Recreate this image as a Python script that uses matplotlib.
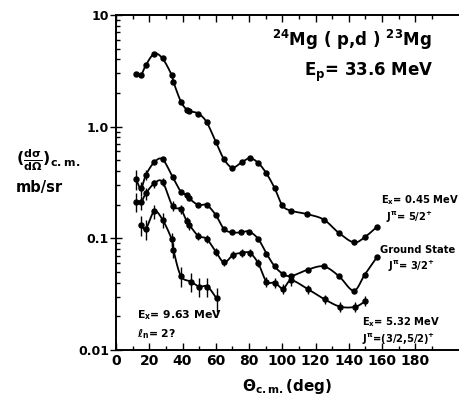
import numpy as np
import matplotlib
matplotlib.use("Agg")
import matplotlib.pyplot as plt
from matplotlib.ticker import FixedLocator, NullFormatter

plt.rcParams["font.family"] = ["DejaVu Sans"]
plt.rcParams["font.weight"] = "bold"
plt.rcParams["mathtext.fontset"] = "dejavusans"
plt.rcParams["mathtext.default"] = "bf"

# 24Mg(p,d)23Mg angular distributions, Ep = 33.6 MeV
theta_045 = [12, 15, 18, 23, 28, 33.5, 34.5, 39, 42.5, 44, 49.5, 54.5, 60, 65,
             70, 75.5, 80.5, 85.5, 90.5, 95.5, 100, 105, 115, 125, 134, 143,
             149.5, 157]
xs_045 = [2.97, 2.9, 3.57, 4.5, 4.08, 2.9, 2.53, 1.68, 1.42, 1.38, 1.31, 1.10,
          0.73, 0.51, 0.43, 0.478, 0.522, 0.474, 0.381, 0.28, 0.198, 0.177,
          0.165, 0.147, 0.112, 0.092, 0.102, 0.127]

theta_gs = [12, 15, 18, 23, 28, 34, 39, 42.5, 44, 49.5, 54.5, 60, 65, 70, 75,
            80, 85.5, 90.5, 95.5, 100.5, 105.5, 115.5, 125, 134, 143, 149.5,
            157]
xs_gs = [0.34, 0.28, 0.37, 0.48, 0.51, 0.356, 0.262, 0.245, 0.228, 0.199,
         0.199, 0.162, 0.121, 0.113, 0.113, 0.115, 0.099, 0.073, 0.056, 0.048,
         0.046, 0.0525, 0.056, 0.046, 0.034, 0.047, 0.068]
err_gs = [0.2, 0.15, 0.1] + [0.0] * 24

theta_532 = [12, 15, 18, 23, 28, 34, 39, 42.5, 44, 49.5, 54.5, 60, 65, 70.5,
             75.5, 80.5, 85.5, 90.5, 95.5, 100.5, 105.5, 115.5, 125.5, 135,
             144, 150]
xs_532 = [0.213, 0.21, 0.253, 0.31, 0.32, 0.195, 0.182, 0.142, 0.132, 0.105,
          0.099, 0.076, 0.061, 0.071, 0.074, 0.074, 0.060, 0.041, 0.040,
          0.0355, 0.042, 0.035, 0.0284, 0.0244, 0.0244, 0.0274]
err_532 = [0.2, 0.15, 0.12, 0.08, 0.08, 0.1, 0.1, 0.1, 0.1, 0.08, 0.08, 0.08,
           0.08, 0.08, 0.08, 0.08, 0.08, 0.1, 0.1, 0.1, 0.1, 0.1, 0.1, 0.1,
           0.1, 0.1]

theta_963 = [15, 18, 23, 28, 33.5, 34.5, 39, 45, 50, 55, 60.5]
xs_963 = [0.132, 0.122, 0.174, 0.147, 0.098, 0.079, 0.046, 0.041, 0.037,
          0.037, 0.029]
err_963 = [0.2, 0.2, 0.15, 0.15, 0.15, 0.15, 0.2, 0.2, 0.2, 0.2, 0.25]

x_ticks = [0, 20, 40, 60, 80, 100, 120, 140, 160, 180]
y_ticks = [0.01, 0.1, 1.0, 10]
y_ticklabels = ["0.01", "0.1", "1.0", "10"]


def smooth(x, y, n=20):
    """Catmull-Rom curve through the points, in (x, log y)."""
    p = np.column_stack([x, np.log10(y)])
    p = np.vstack([2 * p[0] - p[1], p, 2 * p[-1] - p[-2]])
    t = np.linspace(0, 1, n, endpoint=False)[:, None]
    out = []
    for i in range(1, len(p) - 2):
        p0, p1, p2, p3 = p[i - 1], p[i], p[i + 1], p[i + 2]
        seg = 0.5 * ((2 * p1) + (-p0 + p2) * t
                     + (2 * p0 - 5 * p1 + 4 * p2 - p3) * t ** 2
                     + (-p0 + 3 * p1 - 3 * p2 + p3) * t ** 3)
        out.append(seg)
    out.append(p[-2][None, :])
    out = np.vstack(out)
    return out[:, 0], 10 ** out[:, 1]


W, H = 459, 403
fig = plt.figure(figsize=(W / 100, H / 100), dpi=100)
left, right, top, bottom = 116, 459, 15, 350
ax = fig.add_axes([left / W, 1 - bottom / H, (right - left) / W, (bottom - top) / H])
ax.set_yscale("log")
ax.set_xlim(0, (right - left) / 1.6625)
ax.set_ylim(0.01, 10)

series = [
    (theta_045, xs_045, None),
    (theta_gs, xs_gs, err_gs),
    (theta_532, xs_532, err_532),
    (theta_963, xs_963, err_963),
]
for th, xs, err in series:
    sx, sy = smooth(th, xs)
    ax.plot(sx, sy, color="black", lw=1.3, zorder=2)
    ax.plot(th, xs, "o", color="black", ms=3.6, zorder=3)
    if err is not None:
        xs_a = np.array(xs)
        e = xs_a * np.array(err)
        m = np.array(err) > 0
        ax.errorbar(np.array(th)[m], xs_a[m], yerr=e[m], fmt="none",
                    ecolor="black", elinewidth=1.0, capsize=0, zorder=3)

ax.spines["right"].set_visible(False)
for s in ["left", "bottom", "top"]:
    ax.spines[s].set_linewidth(1.4)

ax.xaxis.set_major_locator(FixedLocator(x_ticks))
ax.xaxis.set_minor_locator(FixedLocator(np.arange(10, 200, 20)))
ax.set_xticklabels([str(v) for v in x_ticks])
ax.yaxis.set_major_locator(FixedLocator(y_ticks))
ax.set_yticklabels(y_ticklabels)
ax.yaxis.set_minor_formatter(NullFormatter())
ax.tick_params(which="both", top=True, right=False, direction="in", width=1.0)
ax.tick_params(which="major", length=5, labelsize=10, pad=3)
ax.tick_params(which="minor", length=3)
ax.tick_params(axis="y", which="major", direction="inout", length=8, pad=1,
               labelsize=9)
for lab in ax.get_xticklabels() + ax.get_yticklabels():
    lab.set_fontweight("bold")

ax.set_xlabel(r"$\Theta_{c.m.}$(deg)", fontsize=11, labelpad=6,
              fontweight="bold")

kw = dict(transform=fig.transFigure, color="black", fontweight="bold")
fig.text(272 / W, 1 - 40 / H, r"$^{24}$Mg ( p,d ) $^{23}$Mg", fontsize=12,
         va="center", **kw)
fig.text(304 / W, 1 - 72 / H, r"E$_{p}$= 33.6 MeV", fontsize=12,
         va="center", **kw)
fig.text(16 / W, 1 - 160 / H, r"$(\frac{d\sigma}{d\Omega})_{c.m.}$",
         fontsize=11.5, va="center", **kw)
fig.text(16 / W, 1 - 187 / H, "mb/sr", fontsize=10.5, va="center", **kw)

small = 7.2
fig.text(381 / W, 1 - 200 / H, r"E$_{x}$= 0.45 MeV", fontsize=small,
         va="center", **kw)
fig.text(386 / W, 1 - 217 / H, r"J$^{\pi}$= 5/2$^{+}$", fontsize=small,
         va="center", **kw)
fig.text(380 / W, 1 - 250 / H, "Ground State", fontsize=small, va="center",
         **kw)
fig.text(388 / W, 1 - 266 / H, r"J$^{\pi}$= 3/2$^{+}$", fontsize=small,
         va="center", **kw)
fig.text(362 / W, 1 - 322 / H, r"E$_{x}$= 5.32 MeV", fontsize=small,
         va="center", **kw)
fig.text(362 / W, 1 - 339 / H, r"J$^{\pi}$=(3/2,5/2)$^{+}$", fontsize=small,
         va="center", **kw)
fig.text(137 / W, 1 - 315 / H, r"E$_{x}$= 9.63 MeV", fontsize=small + 0.6,
         va="center", **kw)
fig.text(137 / W, 1 - 334 / H, r"$\ell_{n}$= 2?", fontsize=small + 0.6,
         va="center", **kw)

fig.savefig("out.png", dpi=100)
